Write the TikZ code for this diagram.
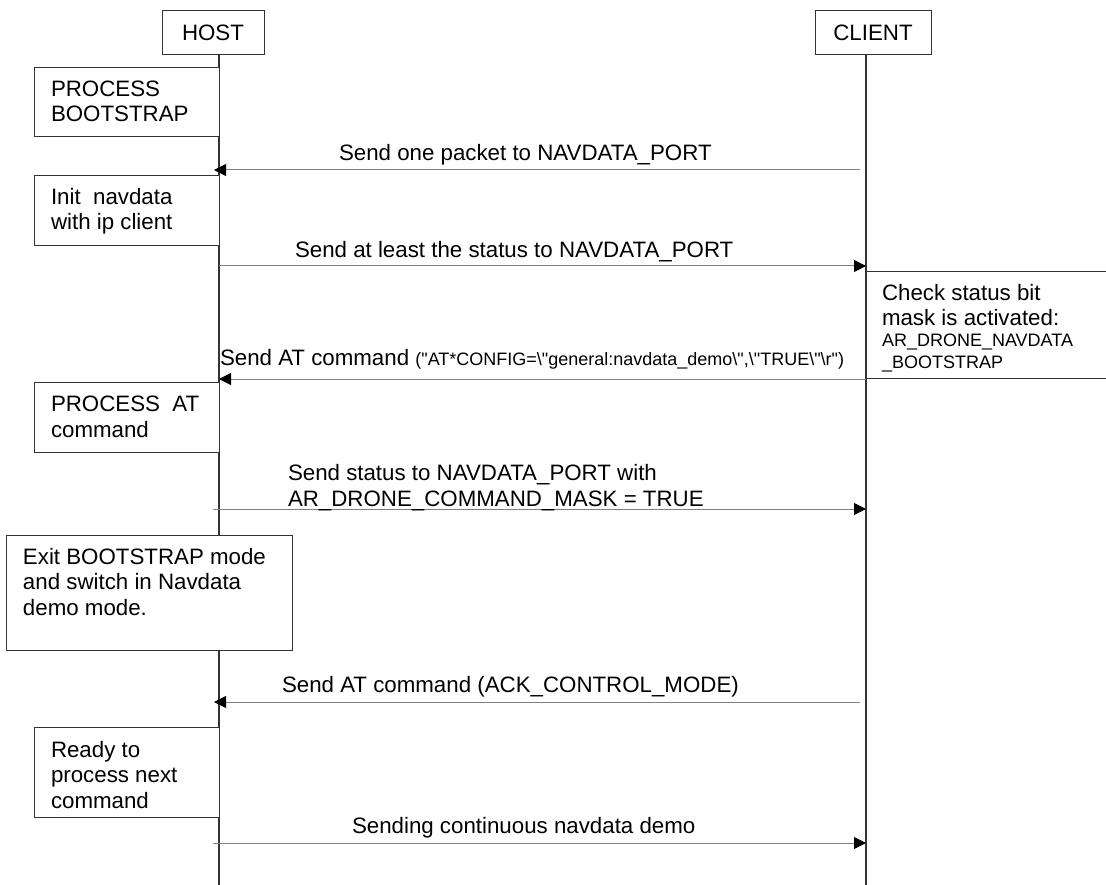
\documentclass[tikz,border=0pt]{standalone}
\usepackage{fontspec}
\setmainfont{Liberation Sans}
\usetikzlibrary{arrows.meta}
\newcommand\smallfnt{\fontsize{18}{21}\selectfont}
\newcommand\qq{\textquotedbl}
\begin{document}
\begin{tikzpicture}[x=1pt,y=-1pt,
  every node/.style={inner sep=0pt, outer sep=0pt},
  actor/.style={draw=black!80, fill=white, line width=1pt, anchor=north west, font=\fontsize{22.3}{26}\selectfont},
  stepbox/.style={draw=black!80, fill=white, line width=1pt, anchor=north west},
  txt/.style={anchor=base west, align=left, font=\fontsize{22.3}{25.5}\selectfont},
  smalltxt/.style={anchor=base west, align=left, font=\smallfnt},
  life/.style={draw=black!80, line width=1.2pt},
  msg/.style={draw=black!50, line width=1pt, -{Triangle[length=12pt,width=12pt,color=black]}},
]
\useasboundingbox (0,0) rectangle (1106,885);
\fill[white] (0,0) rectangle (1106,885);

% actors
\node[actor, minimum width=102pt, minimum height=44pt] (host) at (162,11) {HOST};
\node[actor, minimum width=116pt, minimum height=44pt] (client) at (815,11) {CLIENT};

% lifelines
\coordinate (hend) at (219,885);
\coordinate (cend) at (866,885);
\draw[life] (host.south -| hend) -- (hend);
\draw[life] (client.south -| cend) -- (cend);

% step boxes
\node[stepbox, minimum width=185pt, minimum height=69pt] (b1) at (34,68) {};
\node[stepbox, minimum width=185pt, minimum height=70pt] (b2) at (34,176) {};
\node[stepbox, minimum width=270pt, minimum height=106pt] (b3) at (866,272) {};
\node[stepbox, minimum width=185pt, minimum height=70pt] (b4) at (34,382) {};
\node[stepbox, minimum width=286pt, minimum height=115pt] (b5) at (6,535) {};
\node[stepbox, minimum width=185pt, minimum height=90pt] (b6) at (34,727) {};

% box texts (anchor = baseline of the last line)
\node[txt] (t1) at (51,122) {PROCESS\\BOOTSTRAP};
\node[txt] (t2) at (51,230) {Init~ navdata\\with ip client};
\node[txt] (t3) at (882,326) {Check status bit\\mask is activated:};
\node[smalltxt] (t3b) at (882,368) {AR\_DRONE\_NAVDATA\\\_BOOTSTRAP};
\node[txt] (t4) at (51,437) {PROCESS~ AT\\command};
\node[txt] (t5) at (23,615) {Exit BOOTSTRAP mode\\and switch in Navdata\\demo mode.};
\node[txt] (t6) at (51,808) {Ready to\\process next\\command};

% message end points
\coordinate (c1) at (860,170);  \coordinate (h1) at (214,170);
\coordinate (h2) at (219,266);  \coordinate (c2) at (866,266);
\coordinate (c3) at (866,379);  \coordinate (h3) at (219,379);
\coordinate (h4) at (213,509);  \coordinate (c4) at (866,509);
\coordinate (c5) at (860,702);  \coordinate (h5) at (214,702);
\coordinate (h6) at (213,843);  \coordinate (c6) at (866,843);

\draw[msg] (c1) -- (h1);
\draw[msg] (h2) -- (c2);
\draw[msg] (c3) -- (h3);
\draw[msg] (h4) -- (c4);
\draw[msg] (c5) -- (h5);
\draw[msg] (h6) -- (c6);

% message labels
\node[txt] (l1) at (339,161) {Send one packet to NAVDATA\_PORT};
\node[txt] (l2) at (295,258) {Send at least the status to NAVDATA\_PORT};
\node[txt] (l3) at (220,366) {Send AT command {\smallfnt (\qq AT*CONFIG=\textbackslash\qq general:navdata\_demo\textbackslash\qq,\textbackslash\qq TRUE\textbackslash\qq\textbackslash r\qq)}};
\node[txt] (l4) at (288,506) {Send status to NAVDATA\_PORT with\\AR\_DRONE\_COMMAND\_MASK = TRUE};
\node[txt] (l5) at (282,692) {Send AT command (ACK\_CONTROL\_MODE)};
\node[txt] (l6) at (352,833) {Sending continuous navdata demo};
\end{tikzpicture}
\end{document}
